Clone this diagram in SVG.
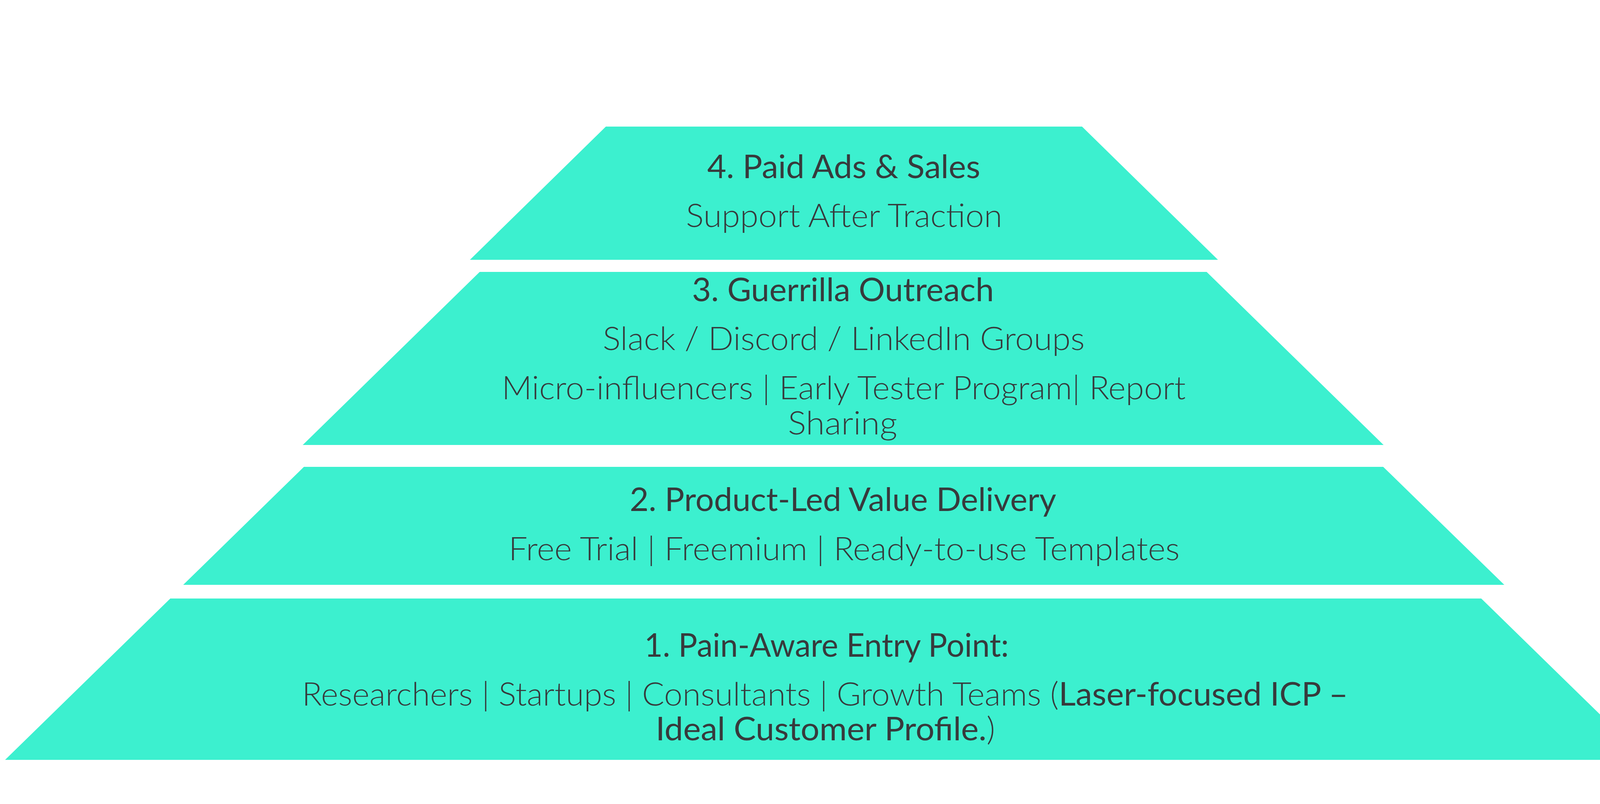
<svg xmlns="http://www.w3.org/2000/svg" width="4228" height="2058" viewBox="0 0 4228 2058">
<style>
.tier{fill:#3CF0CF;}
text{font-family:Lato,"Open Sans","Liberation Sans",sans-serif;font-size:83px;fill:#373A3C;text-anchor:middle;}
.t{font-weight:400;}
.b{font-weight:300;}
.r{font-weight:400;}
</style>
<rect width="4228" height="2058" fill="#FFFFFF"/>
<g id="tier4">
<polygon class="tier" points="1551,324 2770,324 3118,665 1203,665"/>
<text class="t" x="2160" y="456" textLength="699" lengthAdjust="spacingAndGlyphs">4. Paid Ads &amp; Sales</text>
<text class="b" x="2161" y="581" textLength="810" lengthAdjust="spacingAndGlyphs">Support After Traction</text>
</g>
<g id="tier3">
<polygon class="tier" points="1228,696 3089,696 3542,1139 775,1139"/>
<text class="t" x="2158" y="771" textLength="773" lengthAdjust="spacingAndGlyphs">3. Guerrilla Outreach</text>
<text class="b" x="2160" y="896" textLength="1234" lengthAdjust="spacingAndGlyphs">Slack / Discord / LinkedIn Groups</text>
<text class="b" x="2160" y="1022" textLength="1751" lengthAdjust="spacingAndGlyphs">Micro-influencers | Early Tester Program| Report</text>
<text class="b" x="2157" y="1112" textLength="280" lengthAdjust="spacingAndGlyphs">Sharing</text>
</g>
<g id="tier2">
<polygon class="tier" points="778,1195 3541,1195 3851,1497 469,1497"/>
<text class="t" x="2158" y="1308" textLength="1092" lengthAdjust="spacingAndGlyphs">2. Product-Led Value Delivery</text>
<text class="b" x="2161" y="1434" textLength="1718" lengthAdjust="spacingAndGlyphs">Free Trial | Freemium | Ready-to-use Templates</text>
</g>
<g id="tier1">
<polygon class="tier" points="436,1532 3792,1532 4215,1945 13,1945"/>
<text class="t" x="2116" y="1681" textLength="933" lengthAdjust="spacingAndGlyphs">1. Pain-Aware Entry Point:</text>
<text class="b" x="2112" y="1806" textLength="2678" lengthAdjust="spacingAndGlyphs">Researchers | Startups | Consultants | Growth Teams (<tspan class="r">Laser-focused ICP –</tspan></text>
<text class="r" x="2113" y="1895" textLength="869" lengthAdjust="spacingAndGlyphs">Ideal Customer Profile.<tspan class="b">)</tspan></text>
</g>
</svg>
